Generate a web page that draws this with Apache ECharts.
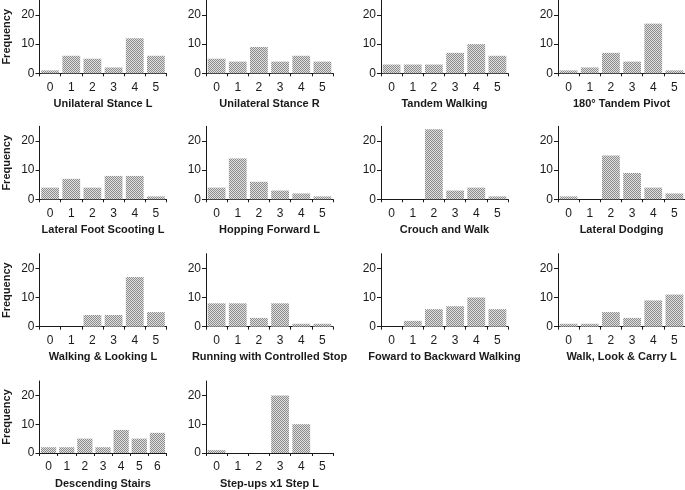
<!DOCTYPE html>
<html>
<head>
<meta charset="utf-8">
<script src="https://cdn.jsdelivr.net/npm/echarts@6/dist/echarts.min.js"></script>
<style>
html,body{margin:0;padding:0;background:#fff;}
#chart{width:685px;height:490px;}
</style>
</head>
<body>
<div id="chart"></div>
<script>
// ---- Data ----
const scores6 = ['0', '1', '2', '3', '4', '5'];
const scores7 = ['0', '1', '2', '3', '4', '5', '6'];
const yTicks = [0, 10, 20];

const titles = [
  'Unilateral Stance L', 'Unilateral Stance R', 'Tandem Walking', '180\u00B0 Tandem Pivot',
  'Lateral Foot Scooting L', 'Hopping Forward L', 'Crouch and Walk', 'Lateral Dodging',
  'Walking & Looking L', 'Running with Controlled Stop', 'Foward to Backward Walking', 'Walk, Look & Carry L',
  'Descending Stairs', 'Step-ups x1 Step L'
];

const unilateralStanceL   = [1, 6, 5, 2, 12, 6];
const unilateralStanceR   = [5, 4, 9, 4, 6, 4];
const tandemWalking       = [3, 3, 3, 7, 10, 6];
const tandemPivot180      = [1, 2, 7, 4, 17, 1];
const lateralFootScooting = [4, 7, 4, 8, 8, 1];
const hoppingForwardL     = [4, 14, 6, 3, 2, 1];
const crouchAndWalk       = [0, 0, 24, 3, 4, 1];
const lateralDodging      = [1, 0, 15, 9, 4, 2];
const walkingLookingL     = [0, 0, 4, 4, 17, 5];
const runningControlled   = [8, 8, 3, 8, 1, 1];
const fowardToBackward    = [0, 2, 6, 7, 10, 6];
const walkLookCarryL      = [1, 1, 5, 3, 9, 11];
const descendingStairs    = [2, 2, 5, 2, 8, 5, 7];
const stepUpsStepL        = [1, 0, 0, 20, 10, 0];

const panelValues = [
  unilateralStanceL, unilateralStanceR, tandemWalking, tandemPivot180,
  lateralFootScooting, hoppingForwardL, crouchAndWalk, lateralDodging,
  walkingLookingL, runningControlled, fowardToBackward, walkLookCarryL,
  descendingStairs, stepUpsStepL
];
const panelCategories = [
  scores6, scores6, scores6, scores6,
  scores6, scores6, scores6, scores6,
  scores6, scores6, scores6, scores6,
  scores7, scores6
];

// ---- Layout ----
const colLeft = [39.5, 206, 381, 558];
const rowZero = [73.3, 199.3, 326.7, 454];
const gridW = 127, gridH = 73;
const FONT = 'Liberation Sans, Arial, sans-serif';
const ink = '#1a1a1a';

// checkered fill pattern
const pc = document.createElement('canvas');
pc.width = 2; pc.height = 2;
const pctx = pc.getContext('2d');
pctx.fillStyle = '#e0e0e0'; pctx.fillRect(0, 0, 2, 2);
pctx.fillStyle = '#8c8c8c'; pctx.fillRect(0, 0, 1, 1); pctx.fillRect(1, 1, 1, 1);
const pattern = { image: pc, repeat: 'repeat' };

const grids = [], xAxes = [], yAxes = [], series = [];
panelValues.forEach((vals, i) => {
  const r = Math.floor(i / 4), c = i % 4;
  grids.push({ left: colLeft[c], top: rowZero[r] - gridH, width: gridW, height: gridH, containLabel: false });
  xAxes.push({
    type: 'category', gridIndex: i, data: panelCategories[i],
    boundaryGap: true,
    axisLine: { lineStyle: { color: ink, width: 1 } },
    axisTick: { show: true, length: 3, lineStyle: { color: ink } },
    axisLabel: { color: ink, fontSize: 12, fontFamily: FONT, margin: 8 },
    name: titles[i], nameLocation: 'middle', nameGap: 25,
    nameTextStyle: { color: ink, fontSize: 11, fontWeight: 'bold', fontFamily: FONT }
  });
  yAxes.push({
    type: 'value', gridIndex: i, min: 0, max: 25, interval: 10,
    splitLine: { show: false },
    axisLine: { show: true, lineStyle: { color: ink, width: 1 } },
    axisTick: { show: true, length: 4, lineStyle: { color: ink }, customValues: yTicks },
    axisLabel: { color: ink, fontSize: 12, fontFamily: FONT, margin: 5, customValues: yTicks },
    name: c === 0 ? 'Frequency' : '', nameLocation: 'middle', nameGap: 27,
    nameTextStyle: { color: ink, fontSize: 11, fontWeight: 'bold', fontFamily: FONT }
  });
  series.push({
    type: 'bar', xAxisIndex: i, yAxisIndex: i, data: vals,
    barCategoryGap: '16%',
    itemStyle: { color: pattern },
    silent: true, animation: false
  });
});

const chart = echarts.init(document.getElementById('chart'), null, { renderer: 'canvas' });
chart.setOption({
  animation: false,
  backgroundColor: '#ffffff',
  grid: grids, xAxis: xAxes, yAxis: yAxes, series: series
});
</script>
</body>
</html>
